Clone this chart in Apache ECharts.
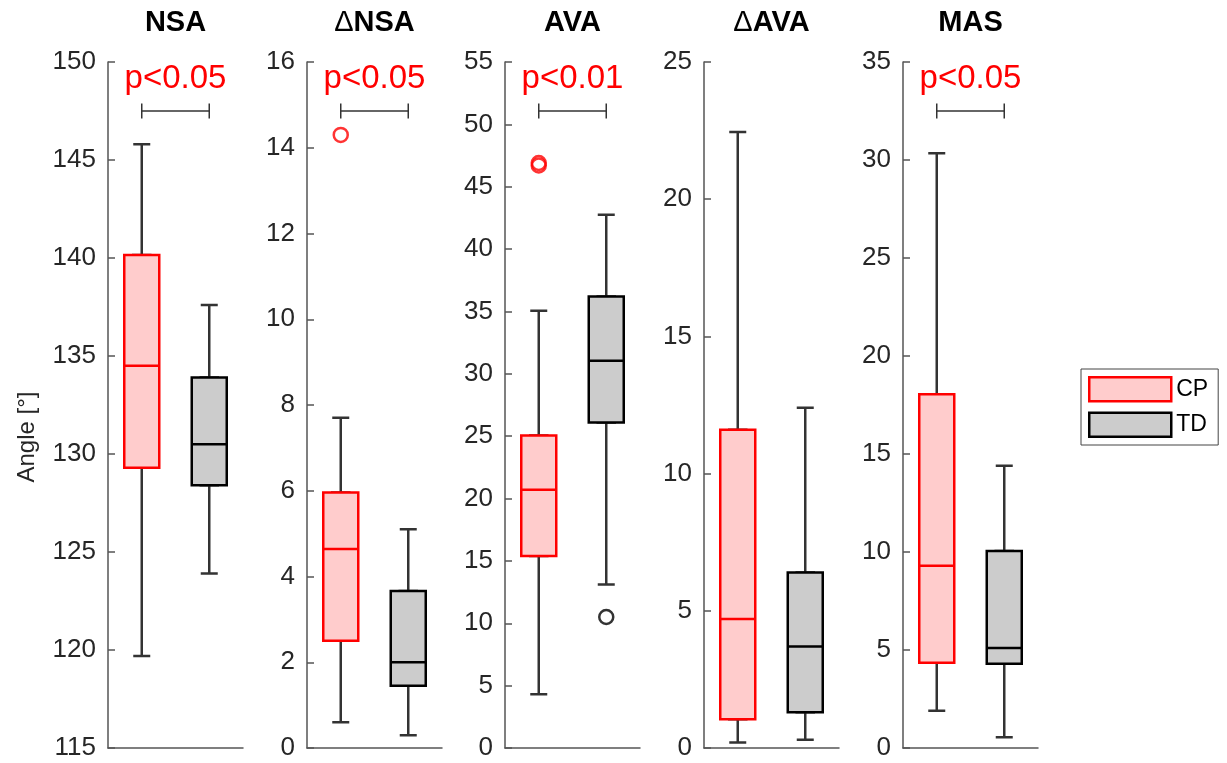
<!DOCTYPE html>
<html><head><meta charset="utf-8">
<script src="https://cdn.jsdelivr.net/npm/echarts@6/dist/echarts.min.js"></script>
<style>html,body{margin:0;padding:0;background:#fff}#c{width:1227px;height:763px}</style>
</head><body><div id="c"></div>
<script>
// ---------- DATA ----------
const panelTitles = ['NSA', 'ΔNSA', 'AVA', 'ΔAVA', 'MAS'];
const groups = ['CP', 'TD'];
const yMin = [115, 0, 0, 0, 0];
const yMax = [150, 16, 55, 25, 35];
const yInterval = [5, 2, 5, 5, 5];
// [min, Q1, median, Q3, max]
const cpStats = [
  [119.7, 129.3, 134.5, 140.15, 145.8],
  [0.6, 2.5, 4.64, 5.96, 7.7],
  [4.3, 15.4, 20.7, 25.05, 35.05],
  [0.2, 1.05, 4.7, 11.6, 22.45],
  [1.9, 4.35, 9.3, 18.05, 30.35]
];
const tdStats = [
  [123.9, 128.4, 130.5, 133.9, 137.6],
  [0.3, 1.45, 2.0, 3.66, 5.1],
  [13.1, 26.1, 31.05, 36.2, 42.75],
  [0.3, 1.3, 3.7, 6.4, 12.4],
  [0.55, 4.3, 5.1, 10.05, 14.4]
];
const cpOutliers = [[], [14.3], [46.7, 46.9], [], []];
const tdOutliers = [[], [], [10.5], [], []];
const pLabels = ['p<0.05', 'p<0.05', 'p<0.01', null, 'p<0.05'];
const bracketLevel = [147.5, 14.86, 51.07, null, 32.5];
const yLabel = 'Angle [°]';

// ---------- LAYOUT / STYLE ----------
const FONT = '"Liberation Sans", Arial, Helvetica, sans-serif';
const gridLefts = [108, 307, 505, 704, 903];
const gridW = 135, gridTop = 62, gridH = 686;
const axisColor = '#555';
const groupStyle = {
  CP: { color: '#ffcccc', borderColor: '#ff0000', borderWidth: 2.5 },
  TD: { color: '#cccccc', borderColor: '#000000', borderWidth: 2.5 }
};

const grid = [], xAxis = [], yAxis = [], series = [], graphic = [];

function bracketRenderer(label) {
  return function (params, api) {
    const p0 = api.coord([api.value(0), api.value(2)]);
    const p1 = api.coord([api.value(1), api.value(2)]);
    const t = 7.5;
    const ls = { stroke: '#333', lineWidth: 1.5 };
    return {
      type: 'group', children: [
        { type: 'line', shape: { x1: p0[0], y1: p0[1], x2: p1[0], y2: p1[1] }, style: ls },
        { type: 'line', shape: { x1: p0[0], y1: p0[1] - t, x2: p0[0], y2: p0[1] + t }, style: ls },
        { type: 'line', shape: { x1: p1[0], y1: p1[1] - t, x2: p1[0], y2: p1[1] + t }, style: ls },
        { type: 'text', x: (p0[0] + p1[0]) / 2, y: p0[1] - 32,
          style: { text: label, fill: '#ff0000', fontSize: 33, fontFamily: FONT, align: 'center', verticalAlign: 'middle' } }
      ]
    };
  };
}

for (let i = 0; i < 5; i++) {
  grid.push({ left: gridLefts[i], width: gridW, top: gridTop, height: gridH });
  yAxis.push({
    gridIndex: i, type: 'value', min: yMin[i], max: yMax[i], interval: yInterval[i],
    axisLine: { show: true, lineStyle: { color: axisColor, width: 1.5 } },
    axisTick: { show: true, inside: true, length: 7, lineStyle: { color: axisColor, width: 1.5 } },
    axisLabel: { fontSize: 26, color: '#262626', margin: 12, fontFamily: FONT },
    splitLine: { show: false }
  });
  xAxis.push({
    gridIndex: i, type: 'category', data: groups, boundaryGap: true,
    axisLine: { show: true, onZero: false, lineStyle: { color: axisColor, width: 1.5 } },
    axisTick: { show: false }, axisLabel: { show: false }, splitLine: { show: false }
  });
  xAxis.push({ gridIndex: i, type: 'category', data: groups, show: false });
  xAxis.push({ gridIndex: i, type: 'category', data: groups, show: false });

  // whiskers (dark) for both groups
  series.push({
    type: 'boxplot', name: 'whiskers' + i, xAxisIndex: 3 * i, yAxisIndex: i,
    boxWidth: [17, 17], encode: { x: 0, y: [1, 2, 3, 4, 5] },
    data: [[0].concat(cpStats[i]), [1].concat(tdStats[i])],
    itemStyle: { color: '#333', borderColor: '#333', borderWidth: 2.5 },
    silent: true, z: 2
  });
  // boxes
  const boxFor = (g, idx, stats, axisIdx) => ({
    type: 'boxplot', name: g, xAxisIndex: axisIdx, yAxisIndex: i,
    boxWidth: [35, 35], encode: { x: 0, y: [1, 2, 3, 4, 5] },
    data: [[idx, stats[1], stats[1], stats[2], stats[3], stats[3]]],
    itemStyle: groupStyle[g], silent: true, z: 3
  });
  series.push(boxFor('CP', 0, cpStats[i], 3 * i + 1));
  series.push(boxFor('TD', 1, tdStats[i], 3 * i + 2));
  // outliers
  const outl = (vals, idx, col) => ({
    type: 'scatter', name: 'outliers', xAxisIndex: 3 * i, yAxisIndex: i,
    data: vals.map(v => [idx, v]), symbol: 'circle', symbolSize: 14,
    itemStyle: { color: 'rgba(0,0,0,0)', borderColor: col, borderWidth: 2.5 }, silent: true, z: 5
  });
  if (cpOutliers[i].length) series.push(outl(cpOutliers[i], 0, '#ff0000'));
  if (tdOutliers[i].length) series.push(outl(tdOutliers[i], 1, '#000000'));
  // significance bracket
  if (pLabels[i]) {
    series.push({
      type: 'custom', name: 'bracket' + i, xAxisIndex: 3 * i, yAxisIndex: i,
      encode: { x: [0, 1], y: 2 }, data: [[0, 1, bracketLevel[i]]],
      renderItem: bracketRenderer(pLabels[i]), silent: true, z: 6, clip: false
    });
  }
  // panel title
  const t = panelTitles[i];
  const hasDelta = t.charAt(0) === 'Δ';
  graphic.push({
    type: 'text', x: gridLefts[i] + gridW / 2, y: 22.5,
    style: {
      text: hasDelta ? '{d|Δ}' + t.slice(1) : t,
      rich: { d: { fontWeight: 'normal', fontSize: 29, fontFamily: FONT, fill: '#000' } },
      fontWeight: 'bold', fontSize: 29, fontFamily: FONT, fill: '#000',
      align: 'center', verticalAlign: 'middle'
    }
  });
}
// y-axis label
graphic.push({
  type: 'text', x: 27, y: 437, rotation: Math.PI / 2,
  style: { text: yLabel, fontSize: 24, fontFamily: FONT, fill: '#262626', align: 'center', verticalAlign: 'middle' }
});

const chart = echarts.init(document.getElementById('c'), null, { renderer: 'canvas' });
chart.setOption({
  animation: false,
  backgroundColor: '#fff',
  grid, xAxis, yAxis, series, graphic,
  legend: {
    orient: 'vertical', left: 1081, top: 369, padding: [7, 10, 7, 7],
    borderColor: '#444', borderWidth: 1, itemWidth: 82, itemHeight: 24, itemGap: 9,
    icon: 'rect', selectedMode: false,
    textStyle: { fontSize: 23, color: '#000', fontFamily: FONT },
    data: groups.map(g => ({ name: g, itemStyle: groupStyle[g] }))
  }
});
</script></body></html>
